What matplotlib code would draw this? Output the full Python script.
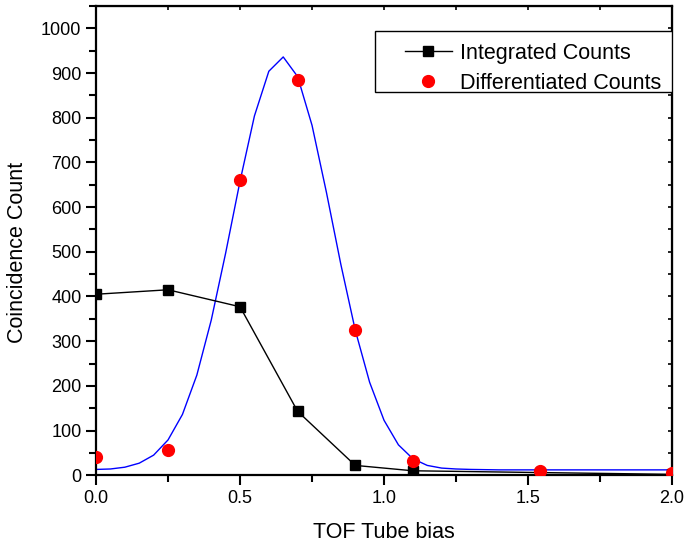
import matplotlib.pyplot as plt
from matplotlib.patches import Rectangle
from matplotlib.ticker import MultipleLocator

plt.rcParams['font.family'] = ['Liberation Sans', 'DejaVu Sans']

# measured points
bias = [0.0, 0.25, 0.5, 0.7, 0.9, 1.1, 1.54, 2.0]
integrated = [405, 415, 377, 143, 22, 10, 6, 2]
differentiated = [40, 57, 660, 885, 325, 32, 10, 5]

# gaussian fit curve (sampled)
fit_x = [0.00, 0.05, 0.10, 0.15, 0.20, 0.25, 0.30, 0.35, 0.40, 0.45,
         0.50, 0.55, 0.60, 0.65, 0.70, 0.75, 0.80, 0.85, 0.90, 0.95,
         1.00, 1.05, 1.10, 1.15, 1.20, 1.25, 1.30, 1.40, 1.50, 1.60,
         1.70, 1.80, 1.90, 2.00]
fit_y = [13, 14, 18, 27, 45, 79, 136, 224, 347, 497,
         658, 804, 904, 936, 892, 783, 633, 472, 325, 208,
         123, 68, 37, 22, 16, 14, 13, 12, 12, 12,
         12, 12, 12, 12]

fig = plt.figure(figsize=(6.86, 5.45), dpi=100)
ax = fig.add_axes([0.14, 0.128, 0.8396, 0.861])

ax.plot(fit_x, fit_y, color='blue', lw=1.0, zorder=2)
ax.plot(bias, integrated, color='black', lw=1.0, marker='s', ms=7.5,
        label='Integrated Counts', zorder=3)
ax.plot(bias, differentiated, 'o', color='red', ms=8.5,
        label='Differentiated Counts', zorder=4)

ax.set_xlim(0, 2.0)
ax.set_ylim(0, 1050)
ax.xaxis.set_major_locator(MultipleLocator(0.5))
ax.xaxis.set_minor_locator(MultipleLocator(0.25))
ax.yaxis.set_major_locator(MultipleLocator(100))
ax.yaxis.set_minor_locator(MultipleLocator(50))
ax.xaxis.set_major_formatter(plt.FormatStrFormatter('%.1f'))

ax.tick_params(which='major', direction='out', length=7, width=1.5, labelsize=13)
ax.tick_params(which='minor', direction='out', length=5, width=1.5)
for s in ax.spines.values():
    s.set_linewidth(1.6)

# mirrored ticks on top and right, pointing inward
top = ax.secondary_xaxis('top')
top.xaxis.set_major_locator(MultipleLocator(0.5))
top.xaxis.set_minor_locator(MultipleLocator(0.25))
top.tick_params(which='both', direction='in', length=3, width=1.2, labeltop=False)
right = ax.secondary_yaxis('right')
right.yaxis.set_major_locator(MultipleLocator(100))
right.yaxis.set_minor_locator(MultipleLocator(50))
right.tick_params(which='both', direction='in', length=3, width=1.2, labelright=False)

ax.set_xlabel('TOF Tube bias', fontsize=15.5, labelpad=11)
ax.set_ylabel('Coincidence Count', fontsize=15.5)
ax.yaxis.set_label_coords(-0.118, 0.475)

# legend box with wider left margin
ax.add_patch(Rectangle((0.484, 0.8166), 0.516, 0.1301, transform=ax.transAxes,
                       facecolor='white', edgecolor='black', lw=1.0, zorder=5))
leg = ax.legend(loc='upper left', bbox_to_anchor=(0.536, 0.922), fontsize=15.5,
                frameon=False, borderpad=0, handlelength=2.2, handletextpad=0.37,
                labelspacing=0.42, borderaxespad=0)
leg.set_zorder(6)

fig.savefig('out.png', dpi=100)
